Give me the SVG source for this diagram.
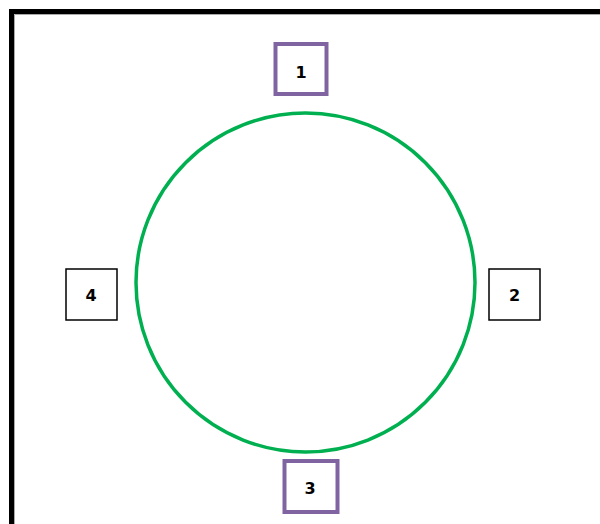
<svg xmlns="http://www.w3.org/2000/svg" width="600" height="524" viewBox="0 0 600 524">
<style>
.t{font-family:"DejaVu Sans","Liberation Sans",sans-serif;font-weight:bold;font-size:16px;text-anchor:middle;dominant-baseline:central;fill:#000}
.p{fill:#fff;stroke:#8064A2;stroke-width:4}
.b{fill:#fff;stroke:#000;stroke-width:1.5}
</style>
<rect width="600" height="524" fill="#fff"/>
<g id="frame">
<path d="M11.5 524 V11.5 H600" fill="none" stroke="#000" stroke-width="5"/>
<path d="M14.5 524 V14.5 H600" fill="none" stroke="#aaa" stroke-width="1"/>
</g>
<g id="connectors">
<circle cx="305.5" cy="282.5" r="169.5" fill="none" stroke="#00B050" stroke-width="3.5"/>
</g>
<g id="n1"><rect class="p" x="275.5" y="44" width="51" height="50"/><text class="t" x="301" y="72">1</text></g>
<g id="n2"><rect class="b" x="489" y="269" width="51" height="51"/><text class="t" x="514.5" y="295">2</text></g>
<g id="n3"><rect class="p" x="284.5" y="461" width="53" height="51"/><text class="t" x="310" y="488">3</text></g>
<g id="n4"><rect class="b" x="66" y="269" width="51" height="51"/><text class="t" x="91" y="295">4</text></g>
</svg>
